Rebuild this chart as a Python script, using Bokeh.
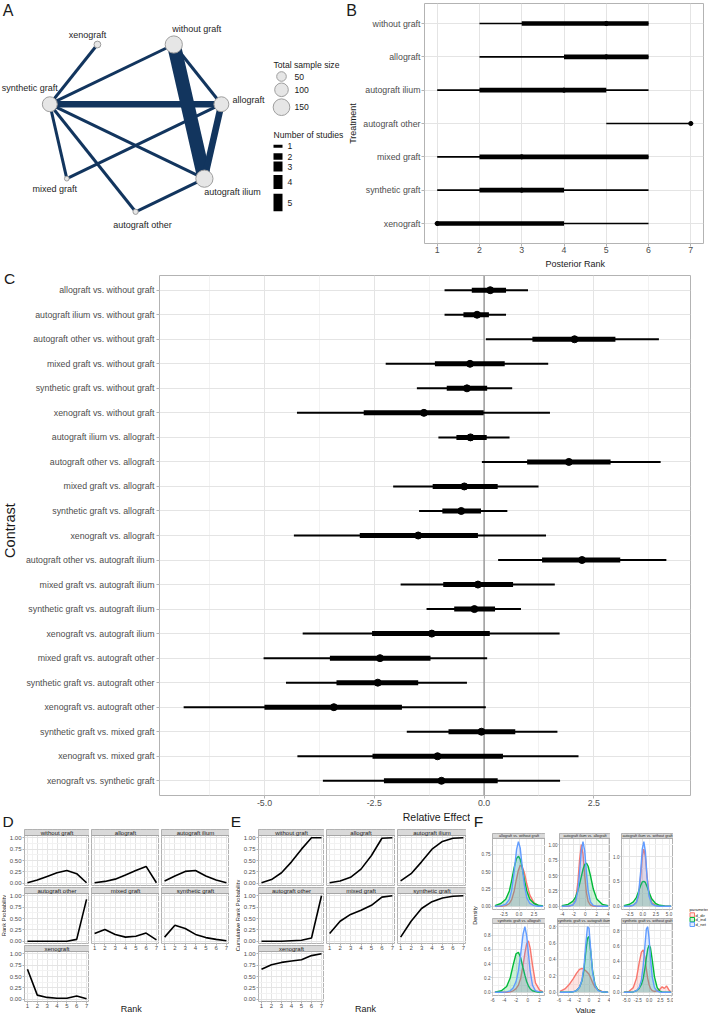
import math
from bokeh.plotting import figure
from bokeh.layouts import row, column
from bokeh.models import (Range1d, FactorRange, LinearAxis, CategoricalAxis, Grid, FixedTicker,
                          CategoricalTicker, Label, Span, ColumnDataSource, NumeralTickFormatter, Spacer)
from bokeh.core.properties import value
from bokeh.embed import file_html
from bokeh.resources import INLINE

# ------------------------------------------------------------------ data
treatments = ["without graft", "allograft", "autograft ilium", "autograft other",
              "mixed graft", "synthetic graft", "xenograft"]
sample_size = [160, 120, 160, 15, 12, 120, 25]
edge_from = ["synthetic graft", "synthetic graft", "synthetic graft", "synthetic graft",
             "synthetic graft", "synthetic graft", "without graft", "without graft",
             "allograft", "allograft", "autograft ilium"]
edge_to = ["xenograft", "without graft", "allograft", "autograft ilium", "mixed graft",
           "autograft other", "allograft", "autograft ilium", "autograft ilium",
           "mixed graft", "autograft other"]
edge_studies = [1, 1, 2, 1, 1, 1, 1, 4, 2, 1, 1]
legend_sample_sizes = [50, 100, 150]
legend_study_counts = [1, 2, 3, 4, 5]

# panel B: posterior ranks
rank_lo95 = [2, 2, 1, 5, 1, 1, 1]
rank_lo50 = [3, 4, 2, 7, 2, 2, 1]
rank_median = [5, 5, 4, 7, 3, 3, 1]
rank_hi50 = [6, 6, 5, 7, 6, 4, 4]
rank_hi95 = [6, 6, 6, 7, 6, 6, 6]
ranks = [1, 2, 3, 4, 5, 6, 7]

# panel C: relative effects
contrasts = ["allograft vs. without graft", "autograft ilium vs. without graft",
             "autograft other vs. without graft", "mixed graft vs. without graft",
             "synthetic graft vs. without graft", "xenograft vs. without graft",
             "autograft ilium vs. allograft", "autograft other vs. allograft",
             "mixed graft vs. allograft", "synthetic graft vs. allograft",
             "xenograft vs. allograft", "autograft other vs. autograft ilium",
             "mixed graft vs. autograft ilium", "synthetic graft vs. autograft ilium",
             "xenograft vs. autograft ilium", "mixed graft vs. autograft other",
             "synthetic graft vs. autograft other", "xenograft vs. autograft other",
             "synthetic graft vs. mixed graft", "xenograft vs. mixed graft",
             "xenograft vs. synthetic graft"]
eff_lo95 = [-0.90, -0.90, 0.04, -2.24, -1.53, -4.26, -1.04, -0.05, -2.07, -1.48, -4.33,
            0.32, -1.90, -1.31, -4.13, -5.02, -4.51, -6.84, -1.76, -4.25, -3.67]
eff_lo50 = [-0.28, -0.47, 1.10, -1.12, -0.85, -2.74, -0.63, 0.98, -1.17, -0.95, -2.83,
            1.32, -0.93, -0.68, -2.55, -3.51, -3.36, -5.00, -0.81, -2.54, -2.28]
eff_mid = [0.14, -0.16, 2.06, -0.32, -0.39, -1.37, -0.31, 1.93, -0.45, -0.52, -1.50,
           2.23, -0.14, -0.22, -1.19, -2.37, -2.42, -3.42, -0.06, -1.06, -0.97]
eff_hi50 = [0.50, 0.11, 2.99, 0.47, 0.07, -0.01, 0.06, 2.88, 0.31, -0.07, -0.14,
            3.10, 0.66, 0.25, 0.13, -1.22, -1.50, -1.87, 0.71, 0.43, 0.31]
eff_hi95 = [1.00, 0.50, 3.98, 1.46, 0.64, 1.50, 0.58, 4.02, 1.24, 0.53, 1.41,
            4.15, 1.61, 0.84, 1.72, 0.07, -0.39, 0.04, 1.67, 2.15, 1.73]
effect_ticks = [-5.0, -2.5, 0.0, 2.5]

# panel D: rank probabilities
rankprob_without_graft = [0.01, 0.07, 0.15, 0.23, 0.28, 0.21, 0.01]
rankprob_allograft = [0.01, 0.04, 0.09, 0.18, 0.28, 0.37, 0.01]
rankprob_autograft_ilium = [0.05, 0.16, 0.26, 0.28, 0.16, 0.07, 0.01]
rankprob_autograft_other = [0.00, 0.00, 0.00, 0.00, 0.00, 0.04, 0.92]
rankprob_mixed_graft = [0.17, 0.26, 0.15, 0.09, 0.11, 0.18, 0.03]
rankprob_synthetic_graft = [0.09, 0.35, 0.28, 0.15, 0.08, 0.04, 0.01]
rankprob_xenograft = [0.66, 0.09, 0.04, 0.02, 0.02, 0.07, 0.01]

# panel E: cumulative rank probabilities
cumprob_without_graft = [0.01, 0.08, 0.23, 0.47, 0.75, 1.00, 1.00]
cumprob_allograft = [0.01, 0.05, 0.13, 0.31, 0.61, 0.99, 1.00]
cumprob_autograft_ilium = [0.05, 0.21, 0.47, 0.75, 0.92, 0.99, 1.00]
cumprob_autograft_other = [0.00, 0.00, 0.00, 0.01, 0.02, 0.07, 1.00]
cumprob_mixed_graft = [0.17, 0.44, 0.59, 0.68, 0.79, 0.97, 1.00]
cumprob_synthetic_graft = [0.09, 0.44, 0.72, 0.87, 0.95, 0.99, 1.00]
cumprob_xenograft = [0.66, 0.76, 0.81, 0.84, 0.87, 0.96, 1.00]
prob_ticks = [0.0, 0.25, 0.5, 0.75, 1.0]

# panel F: node-splitting densities
parameters = ["d_dir", "d_ind", "d_net"]
split_titles = ["allograft vs. without graft", "autograft ilium vs. allograft",
                "autograft ilium vs. without graft", "synthetic graft vs. allograft",
                "synthetic graft vs. autograft ilium", "synthetic graft vs. without graft"]
dens1_x = [-4.0, -3.0, -2.2, -1.6, -1.2, -0.8, -0.4, -0.1, 0.2, 0.5, 0.9, 1.3, 1.8, 2.5, 3.2, 4.0]
dens1_dir = [0.0, 0.0, 0.01, 0.04, 0.10, 0.22, 0.40, 0.52, 0.59, 0.58, 0.48, 0.32, 0.16, 0.05, 0.01, 0.0]
dens1_ind = [0.01, 0.04, 0.10, 0.22, 0.38, 0.56, 0.69, 0.72, 0.68, 0.57, 0.38, 0.22, 0.10, 0.04, 0.015, 0.005]
dens1_net = [0.0, 0.005, 0.03, 0.10, 0.24, 0.50, 0.82, 0.93, 0.84, 0.60, 0.30, 0.12, 0.04, 0.01, 0.0, 0.0]
dens2_x = [-4.1, -3.0, -2.2, -1.7, -1.3, -1.0, -0.7, -0.4, -0.1, 0.2, 0.5, 0.9, 1.4, 2.0, 3.0, 4.0]
dens2_dir = [0.0, 0.001, 0.02, 0.10, 0.38, 0.75, 1.00, 0.85, 0.50, 0.22, 0.08, 0.02, 0.005, 0.0, 0.0, 0.0]
dens2_ind = [0.01, 0.03, 0.08, 0.15, 0.25, 0.36, 0.48, 0.60, 0.68, 0.70, 0.65, 0.50, 0.28, 0.12, 0.03, 0.01]
dens2_net = [0.0, 0.002, 0.02, 0.08, 0.25, 0.55, 0.90, 1.05, 0.90, 0.55, 0.25, 0.07, 0.015, 0.003, 0.0, 0.0]
dens3_x = [-3.6, -2.5, -1.8, -1.2, -0.8, -0.4, -0.1, 0.2, 0.5, 0.8, 1.2, 1.7, 2.4, 3.2, 4.2, 5.4]
dens3_dir = [0.0, 0.005, 0.02, 0.08, 0.22, 0.60, 1.00, 1.15, 1.00, 0.62, 0.25, 0.07, 0.02, 0.005, 0.002, 0.0]
dens3_ind = [0.01, 0.04, 0.09, 0.18, 0.30, 0.42, 0.49, 0.50, 0.48, 0.40, 0.28, 0.15, 0.06, 0.02, 0.005, 0.002]
dens3_net = [0.0, 0.005, 0.02, 0.08, 0.25, 0.70, 1.15, 1.30, 1.10, 0.60, 0.20, 0.05, 0.01, 0.0, 0.0, 0.0]
dens4_x = [-5.6, -4.5, -3.6, -3.0, -2.5, -2.0, -1.6, -1.2, -0.8, -0.5, -0.2, 0.1, 0.4, 0.8, 1.3, 2.0, 2.6]
dens4_dir = [0.0, 0.0, 0.0, 0.005, 0.02, 0.05, 0.10, 0.20, 0.38, 0.55, 0.68, 0.72, 0.62, 0.38, 0.13, 0.03, 0.005]
dens4_ind = [0.0, 0.02, 0.08, 0.20, 0.38, 0.54, 0.56, 0.48, 0.34, 0.24, 0.15, 0.09, 0.05, 0.02, 0.01, 0.0, 0.0]
dens4_net = [0.0, 0.0, 0.005, 0.02, 0.06, 0.15, 0.30, 0.55, 0.82, 0.92, 0.80, 0.55, 0.30, 0.10, 0.02, 0.005, 0.0]
dens5_x = [-5.8, -4.8, -4.0, -3.2, -2.5, -1.9, -1.4, -1.0, -0.6, -0.3, 0.0, 0.3, 0.7, 1.2, 1.8, 2.6, 3.8]
dens5_dir = [0.01, 0.04, 0.09, 0.16, 0.23, 0.28, 0.29, 0.28, 0.26, 0.24, 0.22, 0.18, 0.12, 0.06, 0.03, 0.01, 0.0]
dens5_ind = [0.0, 0.0, 0.0, 0.005, 0.02, 0.06, 0.14, 0.28, 0.52, 0.66, 0.68, 0.52, 0.27, 0.09, 0.025, 0.005, 0.0]
dens5_net = [0.0, 0.0, 0.0, 0.005, 0.02, 0.06, 0.15, 0.32, 0.62, 0.80, 0.78, 0.55, 0.25, 0.08, 0.02, 0.005, 0.0]
dens6_x = [-5.6, -4.5, -3.5, -2.8, -2.2, -1.7, -1.3, -0.9, -0.6, -0.3, 0.0, 0.3, 0.7, 1.2, 1.8, 2.4, 2.9, 3.4, 3.9, 4.4, 4.9]
dens6_dir = [0.0, 0.01, 0.06, 0.18, 0.38, 0.52, 0.55, 0.45, 0.30, 0.18, 0.10, 0.05, 0.02, 0.01, 0.02, 0.04, 0.07, 0.05, 0.08, 0.03, 0.0]
dens6_ind = [0.0, 0.0, 0.005, 0.02, 0.05, 0.10, 0.18, 0.32, 0.45, 0.56, 0.61, 0.58, 0.42, 0.20, 0.06, 0.015, 0.004, 0.0, 0.0, 0.0, 0.0]
dens6_net = [0.0, 0.0, 0.005, 0.02, 0.06, 0.16, 0.35, 0.62, 0.82, 0.85, 0.70, 0.45, 0.20, 0.06, 0.015, 0.003, 0.0, 0.0, 0.0, 0.0, 0.0]
dens1_xticks = [-2.5, 0.0, 2.5]
dens1_yticks = [0.0, 0.25, 0.5, 0.75]
dens2_xticks = [-4, -2, 0, 2, 4]
dens2_yticks = [0.0, 0.25, 0.5, 0.75, 1.0]
dens3_xticks = [-2.5, 0.0, 2.5, 5.0]
dens3_yticks = [0.0, 0.5, 1.0]
dens4_xticks = [-6, -4, -2, 0, 2]
dens4_yticks = [0.0, 0.2, 0.4, 0.6, 0.8]
dens5_xticks = [-6, -4, -2, 0, 2, 4]
dens5_yticks = [0.0, 0.2, 0.4, 0.6, 0.8]
dens6_xticks = [-5.0, -2.5, 0.0, 2.5, 5.0]
dens6_yticks = [0.0, 0.2, 0.4, 0.6, 0.8]

# ------------------------------------------------------------------ style
FONT = "Liberation Sans"
GRID_MAJ = "#e4e4e4"
GRID_MIN = "#f2f2f2"
BORDER = "#b3b3b3"
AXTXT = "#4d4d4d"
TXT = "#1a1a1a"
STRIP_FILL = "#d9d9d9"
STRIP_LINE = "#a6a6a6"
EDGE_COL = "#12355e"
PARAM_COLORS = ["#F8766D", "#00BA38", "#619CFF"]


def base_fig(w, h, l, t, fw, fh, xr, yr):
    p = figure(width=w, height=h, x_range=xr, y_range=yr, x_axis_type=None, y_axis_type=None,
               title=None, toolbar_location=None, output_backend="svg",
               min_border_left=l, min_border_top=t, min_border_right=w - l - fw,
               min_border_bottom=h - t - fh)
    p.frame_align = False
    p.outline_line_color = None
    p.background_fill_color = "white"
    p.border_fill_color = "white"
    return p


def text_fig(w, h):
    """figure whose frame is the whole canvas; used only to hold free text."""
    return base_fig(w, h, 0, 0, w, h, Range1d(0, 1), Range1d(0, 1))


def put_text(p, h, cx, cy, text, size, color=TXT, align="center", angle=0.0):
    # p is a full-frame figure of height h; (cx, cy) measured from its top-left
    p.add_layout(Label(x=cx, y=h - cy, x_units="screen", y_units="screen", text=text,
                       text_font=FONT, text_font_size=size, text_color=color,
                       text_align=align, text_baseline="middle", angle=angle))


def mids(t):
    d = t[1] - t[0]
    return [t[0] - d / 2] + [(a + b) / 2 for a, b in zip(t, t[1:])] + [t[-1] + d / 2]


def add_grid(p, dim, ticks, minor=None, lo=None, hi=None):
    minor = [m for m in (minor or []) if (lo is None or m > lo) and (hi is None or m < hi)]
    g = Grid(dimension=dim, ticker=FixedTicker(ticks=ticks, minor_ticks=minor),
             grid_line_color=GRID_MAJ, grid_line_width=1)
    if minor:
        g.minor_grid_line_color = GRID_MIN
        g.minor_grid_line_width = 1
    p.add_layout(g)


def style_axis(ax, fs, tick_out, standoff):
    ax.axis_line_color = None
    ax.major_tick_line_color = BORDER
    ax.major_tick_in = 0
    ax.major_tick_out = tick_out
    ax.minor_tick_line_color = None
    ax.major_label_standoff = standoff
    ax.major_label_text_font = FONT
    ax.major_label_text_font_size = fs
    ax.major_label_text_color = AXTXT


def add_axis(p, side, ticks, fmt, fs, tick_out, standoff):
    ax = LinearAxis(ticker=FixedTicker(ticks=ticks), formatter=NumeralTickFormatter(format=fmt))
    style_axis(ax, fs, tick_out, standoff)
    p.add_layout(ax, side)


# ------------------------------------------------------------------ panel A (network) + B letters
A_W, A_H = 360, 268
A_CX, A_CY, A_R = 135.1, 123.3, 88.0
pA = base_fig(A_W, A_H, 0, 0, A_W, A_H,
              Range1d(-A_CX / A_R, (A_W - A_CX) / A_R),
              Range1d((A_CY - A_H) / A_R, A_CY / A_R))


def a_xy(px, py):
    return (px - A_CX) / A_R, (A_CY - py) / A_R


n_trt = len(treatments)
angles = [math.pi / 2 - 2 * math.pi / n_trt * (i + 0.5) for i in range(n_trt)]
node_x = [math.cos(a) for a in angles]
node_y = [math.sin(a) for a in angles]
idx = {t: i for i, t in enumerate(treatments)}
SIZE_K = 1.36


def lw_of(n):
    return 3.6 * n - 0.6


edge_src = ColumnDataSource(dict(
    x0=[node_x[idx[a]] for a in edge_from], y0=[node_y[idx[a]] for a in edge_from],
    x1=[node_x[idx[b]] for b in edge_to], y1=[node_y[idx[b]] for b in edge_to],
    lw=[lw_of(s) for s in edge_studies]))
pA.segment(x0="x0", y0="y0", x1="x1", y1="y1", line_width="lw", line_color=EDGE_COL,
           line_cap="butt", source=edge_src)
node_src = ColumnDataSource(dict(x=node_x, y=node_y, name=treatments,
                                 size=[SIZE_K * math.sqrt(s) for s in sample_size],
                                 dx=[23, 27, 28, 7, -12, -20, -10],
                                 dy=[-16, -4, 13, 13, 10, -16, -10]))
pA.scatter(x="x", y="y", size="size", fill_color="#e6e6e6", line_color="#9e9e9e",
           line_width=1, source=node_src)
pA.text(x="x", y="y", text="name", x_offset="dx", y_offset="dy", text_align="center",
        text_baseline="middle", text_font=value(FONT), text_font_size="9px",
        text_color="#262626", source=node_src)
put_text(pA, A_H, 7.5, 10, "A", "16px")
put_text(pA, A_H, 273, 64.3, "Total sample size", "8.6px", align="left")
leg_cy = [76, 89.3, 106.7]
lx, _ = a_xy(281, 0)
pA.scatter(x=[lx] * 3, y=[a_xy(0, v)[1] for v in leg_cy],
           size=[SIZE_K * math.sqrt(s) for s in legend_sample_sizes],
           fill_color="#e6e6e6", line_color="#9e9e9e", line_width=1)
for s, cy in zip(legend_sample_sizes, leg_cy):
    put_text(pA, A_H, 294, cy, str(s), "8.6px", align="left")
put_text(pA, A_H, 273, 134, "Number of studies", "8.6px", align="left")
bar_cy = [145.7, 156, 166, 181.5, 202]
bx0, _ = a_xy(273, 0)
bx1, _ = a_xy(282, 0)
pA.segment(x0=[bx0] * 5, x1=[bx1] * 5, y0=[a_xy(0, v)[1] for v in bar_cy],
           y1=[a_xy(0, v)[1] for v in bar_cy], line_width=[lw_of(n) for n in legend_study_counts],
           line_color="black", line_cap="butt")
for n, cy in zip(legend_study_counts, bar_cy):
    put_text(pA, A_H, 287, cy, str(n), "8.6px", align="left")
put_text(pA, A_H, 351, 10, "B", "16px")
put_text(pA, A_H, 352.5, 123, "Treatment", "9px", angle=math.pi / 2)

# ------------------------------------------------------------------ panel B (posterior ranks)
B_W = 348
pad_b = 0.05 * (max(rank_hi95) - min(rank_lo95))
pB = base_fig(B_W, 257, 63, 3, 280, 240,
              Range1d(min(rank_lo95) - pad_b, max(rank_hi95) + pad_b),
              FactorRange(factors=list(reversed(treatments)), range_padding=0.1,
                          range_padding_units="absolute"))
pB.outline_line_color = BORDER
add_grid(pB, 0, ranks)
pB.add_layout(Grid(dimension=1, ticker=CategoricalTicker(), grid_line_color=GRID_MAJ))
axB = LinearAxis(ticker=FixedTicker(ticks=ranks), formatter=NumeralTickFormatter(format="0"))
style_axis(axB, "8.8px", 3, 0)
pB.add_layout(axB, "below")
ayB = CategoricalAxis()
style_axis(ayB, "8.8px", 3, 1)
pB.add_layout(ayB, "left")
srcB = ColumnDataSource(dict(trt=treatments, lo95=rank_lo95, hi95=rank_hi95,
                             lo50=rank_lo50, hi50=rank_hi50, med=rank_median))
pB.segment(x0="lo95", y0="trt", x1="hi95", y1="trt", line_width=1.7, line_color="black",
           line_cap="butt", source=srcB)
pB.segment(x0="lo50", y0="trt", x1="hi50", y1="trt", line_width=4.6, line_color="black",
           line_cap="butt", source=srcB)
pB.scatter(x="med", y="trt", size=4.2, color="black", source=srcB)
txtB = text_fig(B_W, 11)
put_text(txtB, 11, 574.7 - 360, 5.2, "Posterior Rank", "9px")
colB = column(pB, txtB)

# ------------------------------------------------------------------ panel C (forest)
C_H = 542
letC = text_fig(22, C_H)
put_text(letC, C_H, 9, 9.5, "C", "15.5px")
put_text(letC, C_H, 9, 262, "Contrast", "14.5px", angle=math.pi / 2)
lo_c, hi_c = min(eff_lo95), max(eff_hi95)
pad_c = 0.05 * (hi_c - lo_c)
pC = base_fig(686, C_H, 137, 7, 531, 520, Range1d(lo_c - pad_c, hi_c + pad_c),
              FactorRange(factors=list(reversed(contrasts)), range_padding=0.1,
                          range_padding_units="absolute"))
pC.outline_line_color = BORDER
add_grid(pC, 0, effect_ticks, mids(effect_ticks))
pC.add_layout(Grid(dimension=1, ticker=CategoricalTicker(), grid_line_color=GRID_MAJ))
pC.add_layout(Span(location=0, dimension="height", line_color="#8f8f8f", line_width=1.3,
                   level="underlay"))
axC = LinearAxis(ticker=FixedTicker(ticks=effect_ticks), formatter=NumeralTickFormatter(format="0.0"))
style_axis(axC, "8.8px", 3, 1)
pC.add_layout(axC, "below")
ayC = CategoricalAxis()
style_axis(ayC, "8.8px", 3, 2)
pC.add_layout(ayC, "left")
srcC = ColumnDataSource(dict(c=contrasts, lo95=eff_lo95, hi95=eff_hi95, lo50=eff_lo50,
                             hi50=eff_hi50, mid=eff_mid))
pC.segment(x0="lo95", y0="c", x1="hi95", y1="c", line_width=2, line_color="black",
           line_cap="butt", source=srcC)
pC.segment(x0="lo50", y0="c", x1="hi50", y1="c", line_width=5, line_color="black",
           line_cap="butt", source=srcC)
pC.scatter(x="mid", y="c", size=7, color="black", source=srcC)
rowC = row(letC, pC)

# ------------------------------------------------------------------ facet helpers
rank_xlim = (min(ranks) - 0.05 * (max(ranks) - min(ranks)),
             max(ranks) + 0.05 * (max(ranks) - min(ranks)))
prob_ylim = (-0.05, 1.05)


def facet_base(lb, fw, ph, sh, bottom, xr, yr):
    x0, x1 = xr
    y0, y1 = yr
    ytop = y1 + (y1 - y0) * sh / ph
    p = base_fig(lb + fw, ph + sh + bottom, lb, 0, fw, ph + sh, Range1d(x0, x1), Range1d(y0, ytop))
    p.outline_line_color = BORDER
    return p, ytop


def add_strip(p, xr, y1, ytop, title, fs):
    x0, x1 = xr
    p.quad(left=[x0], right=[x1], bottom=[y1], top=[ytop], fill_color=STRIP_FILL,
           line_color=STRIP_LINE, line_width=1)
    p.text(x=[(x0 + x1) / 2], y=[(y1 + ytop) / 2], text=[title], text_align="center",
           text_baseline="middle", text_font=value(FONT), text_font_size=fs, text_color=TXT)


def rank_facet(ys, title, lb, fw, bottom, show_y, show_x):
    p, ytop = facet_base(lb, fw, 50, 6, bottom, rank_xlim, prob_ylim)
    add_grid(p, 0, ranks, mids(ranks), *rank_xlim)
    add_grid(p, 1, prob_ticks, mids(prob_ticks), *prob_ylim)
    p.line(ranks, ys, line_color="black", line_width=1.6)
    add_strip(p, rank_xlim, prob_ylim[1], ytop, title, "6px")
    if show_y:
        add_axis(p, "left", prob_ticks, "0.00", "6px", 2, 1)
    if show_x:
        add_axis(p, "below", ranks, "0", "6px", 2, 0)
    return p


def rank_region(vals, letter, ylab_text, W, ylab_w, lbs, fws, filler, letter_x, ylab_x, rank_x,
                extra=None):
    header = text_fig(W, 19)
    put_text(header, 19, letter_x, 10.5, letter, "15.5px")
    if extra:
        put_text(header, 19, extra[0], extra[1], extra[2], extra[3])
    ylab = text_fig(ylab_w, 186)
    put_text(ylab, 186, ylab_x, 86, ylab_text, "5.7px", angle=math.pi / 2)
    cols = []
    c = []
    for k, fi in enumerate([0, 3, 6]):
        c.append(rank_facet(vals[fi], treatments[fi], lbs[0], fws[0], 14 if k == 2 else 2,
                            True, k == 2))
    cols.append(column(c))
    for ci, (fa, fb) in enumerate([(1, 4), (2, 5)]):
        lb, fw = lbs[ci + 1], fws[ci + 1]
        c = [rank_facet(vals[fa], treatments[fa], lb, fw, 2, False, False),
             rank_facet(vals[fb], treatments[fb], lb, fw, 10, False, True)]
        if ci == 0:
            tf = text_fig(lb + fw, 62)
            put_text(tf, 62, rank_x, 55.5, "Rank", "9px")
            c.append(tf)
        else:
            c.append(Spacer(width=lb + fw, height=62))
        cols.append(column(c))
    body = row([ylab] + cols + [Spacer(width=filler, height=186)])
    return column(header, body)


rank_vals = [rankprob_without_graft, rankprob_allograft, rankprob_autograft_ilium,
             rankprob_autograft_other, rankprob_mixed_graft, rankprob_synthetic_graft,
             rankprob_xenograft]
cum_vals = [cumprob_without_graft, cumprob_allograft, cumprob_autograft_ilium,
            cumprob_autograft_other, cumprob_mixed_graft, cumprob_synthetic_graft,
            cumprob_xenograft]

regD = rank_region(rank_vals, "D", "Rank Probability", 230, 6, [15, 2, 2], [68, 68, 68], 1,
                   7.5, 3.6, 41.8)
regE = rank_region(cum_vals, "E", "Cumulative Rank Probability", 240, 10, [15, 2, 2],
                   [69, 69, 69], 4, 5.5, 7.5, 41,
                   extra=(436 - 230, 6, "Relative Effect", "10.5px"))

# ------------------------------------------------------------------ panel F
dens_sets = [
    (dens1_x, [dens1_dir, dens1_ind, dens1_net], dens1_xticks, dens1_yticks, "0.0", "0.00"),
    (dens2_x, [dens2_dir, dens2_ind, dens2_net], dens2_xticks, dens2_yticks, "0", "0.00"),
    (dens3_x, [dens3_dir, dens3_ind, dens3_net], dens3_xticks, dens3_yticks, "0.0", "0.0"),
    (dens4_x, [dens4_dir, dens4_ind, dens4_net], dens4_xticks, dens4_yticks, "0", "0.0"),
    (dens5_x, [dens5_dir, dens5_ind, dens5_net], dens5_xticks, dens5_yticks, "0", "0.0"),
    (dens6_x, [dens6_dir, dens6_ind, dens6_net], dens6_xticks, dens6_yticks, "0.0", "0.0"),
]


def dens_facet(k, lb, fw, ph, bottom):
    xs, curves, xt, yt, xf, yf = dens_sets[k]
    xmin, xmax = min(xs), max(xs)
    xp = 0.05 * (xmax - xmin)
    ymax = max(max(cv) for cv in curves)
    yp = 0.05 * ymax
    xr = (xmin - xp, xmax + xp)
    yr = (-yp, ymax + yp)
    p, ytop = facet_base(lb, fw, ph, 5, bottom, xr, yr)
    add_grid(p, 0, xt, mids(xt), *xr)
    add_grid(p, 1, yt, mids(yt), *yr)
    for col, ys in zip(PARAM_COLORS, curves):
        p.varea(x=xs, y1=0, y2=ys, fill_color=col, fill_alpha=0.2)
        p.line(xs, ys, line_color=col, line_width=1.4)
    add_strip(p, xr, yr[1], ytop, split_titles[k], "3.7px")
    add_axis(p, "left", yt, yf, "4.6px", 1, 1)
    add_axis(p, "below", xt, xf, "4.6px", 1, 1)
    return p


F_lbs = [14, 12, 9]
F_fws = [53, 53, 54]
F_cols = []
for ci in range(3):
    lb, fw = F_lbs[ci], F_fws[ci]
    c = [dens_facet(ci, lb, fw, 72, 8), dens_facet(ci + 3, lb, fw, 73, 8)]
    if ci == 1:
        tf = text_fig(lb + fw, 11)
        put_text(tf, 11, 40, 4.8, "Value", "8px")
        c.append(tf)
    else:
        c.append(Spacer(width=lb + fw, height=11))
    F_cols.append(column(c))

headerF = text_fig(203, 23)
put_text(headerF, 23, 8, 10.5, "F", "15.5px")
ylabF = text_fig(8, 182)
put_text(ylabF, 182, 4, 82, "Density", "5.5px", angle=math.pi / 2)

legF = base_fig(35, 205, 0, 0, 35, 205, Range1d(0, 35), Range1d(205, 0))
key_top = [102.3, 107.0, 111.7]
legF.quad(left=[16.5] * 3, right=[21] * 3, top=key_top, bottom=[v + 4.3 for v in key_top],
          fill_color=PARAM_COLORS, fill_alpha=0.2, line_color=PARAM_COLORS, line_width=1)
put_text(legF, 205, 16, 99.0, "parameter", "4.2px", align="left")
for name, v in zip(parameters, key_top):
    put_text(legF, 205, 22, v + 2.2, name, "4.2px", align="left")

regF = row(column(headerF, row([ylabF] + F_cols)), legF)

# ------------------------------------------------------------------ assemble
layout = column(row(pA, colB), rowC, row(regD, regE, regF))
open("out.html", "w").write(file_html(layout, INLINE))
